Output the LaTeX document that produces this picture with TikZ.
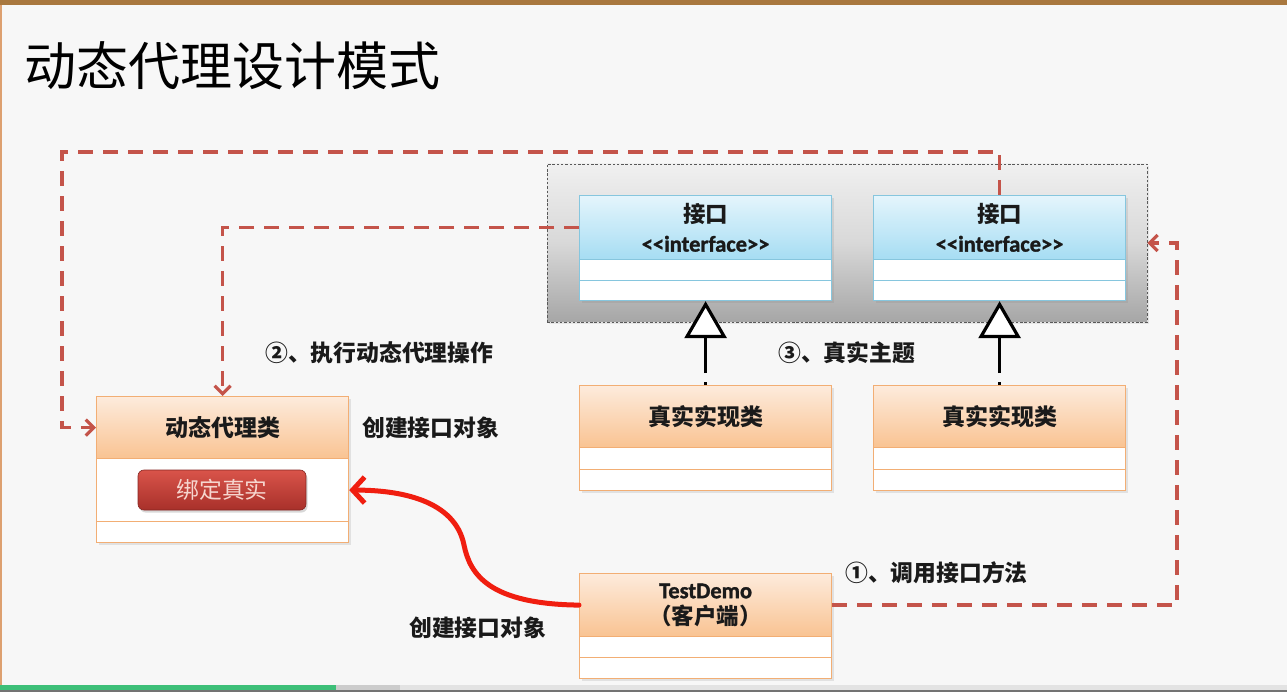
\documentclass[tikz,border=0pt]{standalone}
\usepackage{fontspec}
\setmainfont{Noto Sans CJK SC}
\newfontfamily\lat{Carlito}[BoldFont={Carlito Bold},BoldFeatures={FakeBold=1.3}]
\newfontfamily\cjk{Noto Sans CJK SC}
\usetikzlibrary{arrows.meta,shadows}
\definecolor{bgc}{HTML}{F7F7F7}
\definecolor{topbar}{HTML}{A9783F}
\definecolor{edgeo}{HTML}{DDA070}
\definecolor{blueB}{HTML}{86C6DE}
\definecolor{blueT}{HTML}{E4F5FC}
\definecolor{blueM}{HTML}{A6DDF3}
\definecolor{orB}{HTML}{F2AE74}
\definecolor{orT}{HTML}{FDEBDC}
\definecolor{orM}{HTML}{F9C392}
\definecolor{dred}{HTML}{C4544A}
\definecolor{bred}{HTML}{F01E10}
\definecolor{btnT}{HTML}{D9544A}
\definecolor{btnB}{HTML}{A8302A}
\definecolor{btnTx}{HTML}{F6D6CF}
\definecolor{txt}{HTML}{1A1A1A}
\definecolor{grpT}{HTML}{F0F0F0}
\definecolor{grpM}{HTML}{D8D8D8}
\definecolor{grpB}{HTML}{A6A6A6}
\definecolor{grn}{HTML}{3DBF78}
\tikzset{
  shad/.style={drop shadow={opacity=0.18,shadow xshift=2pt,shadow yshift=-2.5pt}},
  hdrI/.style={shad,draw=blueB,line width=1.2pt,top color=blueT,bottom color=blueM,
    minimum width=252pt,minimum height=64pt,inner sep=0pt,anchor=north west,
    align=center,text=txt,font=\fontsize{22.5}{29}\selectfont\bfseries},
  compI/.style={shad,draw=blueB,line width=1.2pt,fill=white,minimum width=252pt,
    inner sep=0pt,anchor=north west},
  hdrO/.style={shad,draw=orB,line width=1.2pt,top color=orT,bottom color=orM,
    minimum width=252pt,minimum height=62pt,inner sep=0pt,anchor=north west,
    align=center,text=txt,font=\fontsize{23}{27}\selectfont\bfseries},
  compO/.style={shad,draw=orB,line width=1.2pt,fill=white,minimum width=252pt,
    inner sep=0pt,anchor=north west},
  grpbox/.style={draw=black!65,line width=0.9pt,dash pattern=on 2.5pt off 1.8pt,
    top color=grpT,bottom color=grpB,middle color=grpM,minimum width=600pt,
    minimum height=158pt,inner sep=0pt,drop shadow={opacity=0.15,shadow xshift=1.5pt,shadow yshift=-2pt}},
  lbl/.style={text=txt,font=\fontsize{22.8}{26}\selectfont\bfseries,inner sep=0pt},
  dconn/.style={draw=dred,line width=3.7pt,dash pattern=on 15pt off 10pt,
    -{Straight Barb[length=8pt,width=16pt,line width=3.2pt]}},
  realz/.style={draw=black,line width=3.2pt,dash pattern=on 3pt off 9pt on 300pt off 1pt,
    -{Triangle[open,length=37pt,width=42pt,line width=3.2pt,fill=white]}},
  redc/.style={draw=bred,line width=5pt,line cap=round,
    -{Straight Barb[length=12pt,width=26pt,line width=5pt]}},
  btn/.style={rounded corners=6pt,top color=btnT,bottom color=btnB,draw=btnB!80!black,
    line width=0.6pt,minimum width=168pt,minimum height=40pt,inner sep=0pt,
    text=btnTx,font=\fontsize{22.8}{26}\selectfont,
    drop shadow={opacity=0.3,shadow xshift=1.5pt,shadow yshift=-2.5pt}}
}
\begin{document}
\begin{tikzpicture}[x=1pt,y=-1pt]
\useasboundingbox (0,0) rectangle (1287,692);
% background and frame
\fill[bgc] (0,0) rectangle (1287,692);
\fill[topbar] (0,0) rectangle (1287,5);
\fill[edgeo] (0,5) rectangle (1.5,685);
\fill[grn] (0,685) rectangle (336,690);
\fill[black!20] (336,685) rectangle (400,690);
\fill[black!11] (400,685) rectangle (1287,690);
\fill[black!55] (0,690) rectangle (1287,692);
% title
\node[anchor=west,inner sep=0pt,text=black,font=\fontsize{52}{58}\selectfont] (title) at (24,66) {动态代理设计模式};
% group box
\node[grpbox] (grp) at (847,243) {};
% interface boxes
\node[hdrI] (ih1) at (579,195) {接口\\{\lat\bfseries <{}<interface>{}>}};
\node[compI,minimum height=21pt] (ic1a) at (579,259) {};
\node[compI,minimum height=20pt] (ic1b) at (579,280) {};
\node[hdrI] (ih2) at (873,195) {接口\\{\lat\bfseries <{}<interface>{}>}};
\node[compI,minimum height=21pt] (ic2a) at (873,259) {};
\node[compI,minimum height=20pt] (ic2b) at (873,280) {};
% realization classes
\node[hdrO] (rh1) at (579,385) {真实实现类};
\node[compO,minimum height=22pt] (rc1a) at (579,447) {};
\node[compO,minimum height=21pt] (rc1b) at (579,469) {};
\node[hdrO] (rh2) at (873,385) {真实实现类};
\node[compO,minimum height=22pt] (rc2a) at (873,447) {};
\node[compO,minimum height=21pt] (rc2b) at (873,469) {};
% dynamic proxy class
\node[hdrO] (ph) at (96,396) {动态代理类};
\node[compO,minimum height=63pt] (pb) at (96,458) {};
\node[compO,minimum height=21pt] (pc) at (96,521) {};
\node[btn] (bind) at (222,490) {绑定真实};
% client
\node[hdrO,minimum height=63pt,font=\fontsize{22.5}{26}\selectfont\bfseries] (td) at (579,573) {{\lat\bfseries TestDemo}\\（客户端）};
\node[compO,minimum height=21pt] (tc1) at (579,636) {};
\node[compO,minimum height=21pt] (tc2) at (579,657) {};
% labels
\node[lbl,anchor=west] (l2) at (265,353) {②、执行动态代理操作};
\node[lbl,anchor=west] (lc1) at (362,428) {创建接口对象};
\node[lbl,anchor=west] (l3) at (778,353) {③、真实主题};
\node[lbl,anchor=west] (l1) at (845,573) {①、调用接口方法};
\node[lbl,anchor=west] (lc2) at (409,628) {创建接口对象};
% coordinates for connector bends
\coordinate (c1) at (62,152);
\coordinate (c2) at (1177,243);
% connectors
\draw[realz] (rh1.north) -- (ic1b.south);
\draw[realz] (rh2.north) -- (ic2b.south);
\draw[dconn] (ih2.north) |- (c1) |- (ph.west);
\draw[dconn] (ih1.west) -| (ph.north);
\draw[dconn] (td.east) -| (c2) -- (grp.east);
\draw[redc] (td.west) .. controls (490,604) and (470,575) .. (464,545)
  .. controls (455,500) and (400,490) .. (pb.east);
\end{tikzpicture}
\end{document}
